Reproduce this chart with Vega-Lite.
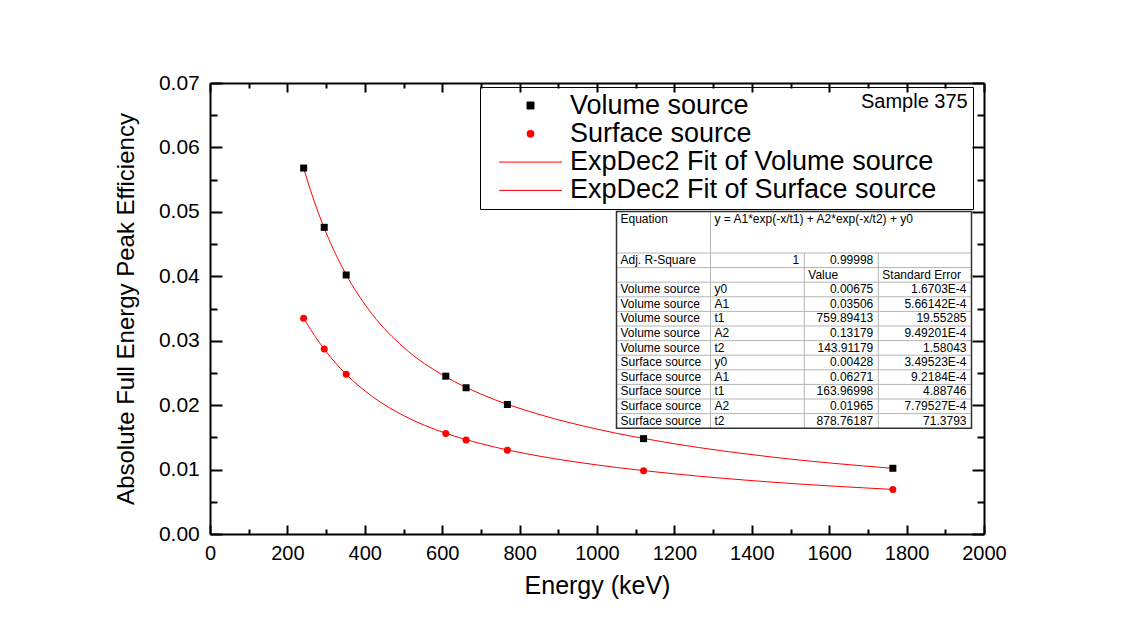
{
  "$schema": "https://vega.github.io/schema/vega-lite/v6.json",
  "width": 774,
  "height": 451,
  "autosize": {"type": "none"},
  "padding": {"left": 210, "top": 83, "right": 146, "bottom": 103},
  "background": "white",
  "config": {
    "view": {"stroke": null},
    "font": "Liberation Sans",
    "axis": {"grid": false, "domainColor": "black", "domainWidth": 2, "tickColor": "black", "tickWidth": 2, "labelFont": "Liberation Sans", "labelFontSize": 20, "labelColor": "black", "titleFont": "Liberation Sans", "titleFontWeight": "normal", "titleColor": "black", "labelFlush": false, "labelOverlap": false}
  },
  "datasets": {
    "measured": [
      {"E": 242.0, "eff": 0.0568, "series": "Volume source"},
      {"E": 295.2, "eff": 0.0476, "series": "Volume source"},
      {"E": 351.9, "eff": 0.0402, "series": "Volume source"},
      {"E": 609.3, "eff": 0.0245, "series": "Volume source"},
      {"E": 661.7, "eff": 0.0227, "series": "Volume source"},
      {"E": 768.4, "eff": 0.0201, "series": "Volume source"},
      {"E": 1120.3, "eff": 0.0148, "series": "Volume source"},
      {"E": 1764.5, "eff": 0.0102, "series": "Volume source"},
      {"E": 242.0, "eff": 0.0335, "series": "Surface source"},
      {"E": 295.2, "eff": 0.0287, "series": "Surface source"},
      {"E": 351.9, "eff": 0.0248, "series": "Surface source"},
      {"E": 609.3, "eff": 0.0156, "series": "Surface source"},
      {"E": 661.7, "eff": 0.0146, "series": "Surface source"},
      {"E": 768.4, "eff": 0.0130, "series": "Surface source"},
      {"E": 1120.3, "eff": 0.0098, "series": "Surface source"},
      {"E": 1764.5, "eff": 0.0069, "series": "Surface source"}
    ],
    "fit": [
      {"E": 242, "eff": 0.05677, "series": "ExpDec2 Fit of Volume source"},
      {"E": 260, "eff": 0.05329, "series": "ExpDec2 Fit of Volume source"},
      {"E": 300, "eff": 0.04677, "series": "ExpDec2 Fit of Volume source"},
      {"E": 325, "eff": 0.04339, "series": "ExpDec2 Fit of Volume source"},
      {"E": 350, "eff": 0.04045, "series": "ExpDec2 Fit of Volume source"},
      {"E": 420, "eff": 0.03404, "series": "ExpDec2 Fit of Volume source"},
      {"E": 500, "eff": 0.02899, "series": "ExpDec2 Fit of Volume source"},
      {"E": 609, "eff": 0.02440, "series": "ExpDec2 Fit of Volume source"},
      {"E": 700, "eff": 0.02172, "series": "ExpDec2 Fit of Volume source"},
      {"E": 850, "eff": 0.01857, "series": "ExpDec2 Fit of Volume source"},
      {"E": 1000, "eff": 0.01628, "series": "ExpDec2 Fit of Volume source"},
      {"E": 1200, "eff": 0.01401, "series": "ExpDec2 Fit of Volume source"},
      {"E": 1450, "eff": 0.01196, "series": "ExpDec2 Fit of Volume source"},
      {"E": 1764.5, "eff": 0.01019, "series": "ExpDec2 Fit of Volume source"},
      {"E": 242, "eff": 0.03353, "series": "ExpDec2 Fit of Surface source"},
      {"E": 260, "eff": 0.03174, "series": "ExpDec2 Fit of Surface source"},
      {"E": 300, "eff": 0.02831, "series": "ExpDec2 Fit of Surface source"},
      {"E": 325, "eff": 0.02650, "series": "ExpDec2 Fit of Surface source"},
      {"E": 350, "eff": 0.02489, "series": "ExpDec2 Fit of Surface source"},
      {"E": 420, "eff": 0.02131, "series": "ExpDec2 Fit of Surface source"},
      {"E": 500, "eff": 0.01838, "series": "ExpDec2 Fit of Surface source"},
      {"E": 609, "eff": 0.01564, "series": "ExpDec2 Fit of Surface source"},
      {"E": 700, "eff": 0.01402, "series": "ExpDec2 Fit of Surface source"},
      {"E": 850, "eff": 0.01210, "series": "ExpDec2 Fit of Surface source"},
      {"E": 1000, "eff": 0.01072, "series": "ExpDec2 Fit of Surface source"},
      {"E": 1200, "eff": 0.00934, "series": "ExpDec2 Fit of Surface source"},
      {"E": 1450, "eff": 0.00806, "series": "ExpDec2 Fit of Surface source"},
      {"E": 1764.5, "eff": 0.00692, "series": "ExpDec2 Fit of Surface source"}
    ],
    "tableFrame": [{"r0": 0, "r1": 13, "c0": 0, "c1": 4}],
    "tableGrid": [
      {"r0": 1, "r1": 1, "c0": 0, "c1": 4},
      {"r0": 2, "r1": 2, "c0": 0, "c1": 4},
      {"r0": 3, "r1": 3, "c0": 0, "c1": 4},
      {"r0": 4, "r1": 4, "c0": 0, "c1": 4},
      {"r0": 5, "r1": 5, "c0": 0, "c1": 4},
      {"r0": 6, "r1": 6, "c0": 0, "c1": 4},
      {"r0": 7, "r1": 7, "c0": 0, "c1": 4},
      {"r0": 8, "r1": 8, "c0": 0, "c1": 4},
      {"r0": 9, "r1": 9, "c0": 0, "c1": 4},
      {"r0": 10, "r1": 10, "c0": 0, "c1": 4},
      {"r0": 11, "r1": 11, "c0": 0, "c1": 4},
      {"r0": 12, "r1": 12, "c0": 0, "c1": 4},
      {"r0": 0, "r1": 13, "c0": 1, "c1": 1},
      {"r0": 1, "r1": 13, "c0": 2, "c1": 2},
      {"r0": 1, "r1": 13, "c0": 3, "c1": 3}
    ],
    "tableCells": [
      {"r": 0, "c0": 0, "c1": 1, "t": "Equation", "k": "label"},
      {"r": 0, "c0": 1, "c1": 4, "t": "y = A1*exp(-x/t1) + A2*exp(-x/t2) + y0", "k": "label"},
      {"r": 1, "c0": 0, "c1": 1, "t": "Adj. R-Square", "k": "label"},
      {"r": 1, "c0": 1, "c1": 2, "t": "1", "k": "number"},
      {"r": 1, "c0": 2, "c1": 3, "t": "0.99998", "k": "number"},
      {"r": 2, "c0": 2, "c1": 3, "t": "Value", "k": "label"},
      {"r": 2, "c0": 3, "c1": 4, "t": "Standard Error", "k": "label"},
      {"r": 3, "c0": 0, "c1": 1, "t": "Volume source", "k": "label"},
      {"r": 3, "c0": 1, "c1": 2, "t": "y0", "k": "label"},
      {"r": 3, "c0": 2, "c1": 3, "t": "0.00675", "k": "number"},
      {"r": 3, "c0": 3, "c1": 4, "t": "1.6703E-4", "k": "number"},
      {"r": 4, "c0": 0, "c1": 1, "t": "Volume source", "k": "label"},
      {"r": 4, "c0": 1, "c1": 2, "t": "A1", "k": "label"},
      {"r": 4, "c0": 2, "c1": 3, "t": "0.03506", "k": "number"},
      {"r": 4, "c0": 3, "c1": 4, "t": "5.66142E-4", "k": "number"},
      {"r": 5, "c0": 0, "c1": 1, "t": "Volume source", "k": "label"},
      {"r": 5, "c0": 1, "c1": 2, "t": "t1", "k": "label"},
      {"r": 5, "c0": 2, "c1": 3, "t": "759.89413", "k": "number"},
      {"r": 5, "c0": 3, "c1": 4, "t": "19.55285", "k": "number"},
      {"r": 6, "c0": 0, "c1": 1, "t": "Volume source", "k": "label"},
      {"r": 6, "c0": 1, "c1": 2, "t": "A2", "k": "label"},
      {"r": 6, "c0": 2, "c1": 3, "t": "0.13179", "k": "number"},
      {"r": 6, "c0": 3, "c1": 4, "t": "9.49201E-4", "k": "number"},
      {"r": 7, "c0": 0, "c1": 1, "t": "Volume source", "k": "label"},
      {"r": 7, "c0": 1, "c1": 2, "t": "t2", "k": "label"},
      {"r": 7, "c0": 2, "c1": 3, "t": "143.91179", "k": "number"},
      {"r": 7, "c0": 3, "c1": 4, "t": "1.58043", "k": "number"},
      {"r": 8, "c0": 0, "c1": 1, "t": "Surface source", "k": "label"},
      {"r": 8, "c0": 1, "c1": 2, "t": "y0", "k": "label"},
      {"r": 8, "c0": 2, "c1": 3, "t": "0.00428", "k": "number"},
      {"r": 8, "c0": 3, "c1": 4, "t": "3.49523E-4", "k": "number"},
      {"r": 9, "c0": 0, "c1": 1, "t": "Surface source", "k": "label"},
      {"r": 9, "c0": 1, "c1": 2, "t": "A1", "k": "label"},
      {"r": 9, "c0": 2, "c1": 3, "t": "0.06271", "k": "number"},
      {"r": 9, "c0": 3, "c1": 4, "t": "9.2184E-4", "k": "number"},
      {"r": 10, "c0": 0, "c1": 1, "t": "Surface source", "k": "label"},
      {"r": 10, "c0": 1, "c1": 2, "t": "t1", "k": "label"},
      {"r": 10, "c0": 2, "c1": 3, "t": "163.96998", "k": "number"},
      {"r": 10, "c0": 3, "c1": 4, "t": "4.88746", "k": "number"},
      {"r": 11, "c0": 0, "c1": 1, "t": "Surface source", "k": "label"},
      {"r": 11, "c0": 1, "c1": 2, "t": "A2", "k": "label"},
      {"r": 11, "c0": 2, "c1": 3, "t": "0.01965", "k": "number"},
      {"r": 11, "c0": 3, "c1": 4, "t": "7.79527E-4", "k": "number"},
      {"r": 12, "c0": 0, "c1": 1, "t": "Surface source", "k": "label"},
      {"r": 12, "c0": 1, "c1": 2, "t": "t2", "k": "label"},
      {"r": 12, "c0": 2, "c1": 3, "t": "878.76187", "k": "number"},
      {"r": 12, "c0": 3, "c1": 4, "t": "71.3793", "k": "number"}
    ]
  },
  "layer": [
    {
      "layer": [
        {
          "data": {"name": "fit"},
          "mark": {"type": "line", "color": "#ff0000", "strokeWidth": 1, "interpolate": "monotone"},
          "encoding": {
            "x": {"field": "E", "type": "quantitative", "scale": {"domain": [0, 2000], "nice": false, "zero": false},
              "axis": {"orient": "top", "values": [0,100,200,300,400,500,600,700,800,900,1000,1100,1200,1300,1400,1500,1600,1700,1800,1900,2000], "labels": false, "title": null,
                "tickSize": {"condition": {"test": "datum.value % 200 === 0", "value": -9}, "value": -5}}},
            "y": {"field": "eff", "type": "quantitative", "scale": {"domain": [0, 0.07], "nice": false, "zero": false},
              "axis": {"orient": "right", "values": [0,0.005,0.01,0.015,0.02,0.025,0.03,0.035,0.04,0.045,0.05,0.055,0.06,0.065,0.07], "labels": false, "title": null,
                "tickSize": {"condition": {"test": "abs(datum.value*100 - round(datum.value*100)) < 0.001", "value": -12}, "value": -7}}},
            "detail": {"field": "series", "type": "nominal"}
          }
        },
        {
          "data": {"name": "measured"},
          "mark": {"type": "point", "filled": true, "size": 49, "opacity": 1},
          "encoding": {
            "x": {"field": "E", "type": "quantitative",
              "axis": {"orient": "bottom", "values": [0,100,200,300,400,500,600,700,800,900,1000,1100,1200,1300,1400,1500,1600,1700,1800,1900,2000], "format": "d",
                "labelExpr": "datum.value % 200 === 0 ? datum.label : ''",
                "tickSize": {"condition": {"test": "datum.value % 200 === 0", "value": -9}, "value": -5},
                "labelPadding": 18.5, "title": "Energy (keV)", "titleFontSize": 25, "titlePadding": 6}},
            "y": {"field": "eff", "type": "quantitative",
              "axis": {"orient": "left", "values": [0,0.005,0.01,0.015,0.02,0.025,0.03,0.035,0.04,0.045,0.05,0.055,0.06,0.065,0.07], "format": ".2f",
                "labelExpr": "abs(datum.value*100 - round(datum.value*100)) < 0.001 ? datum.label : ''",
                "tickSize": {"condition": {"test": "abs(datum.value*100 - round(datum.value*100)) < 0.001", "value": -12}, "value": -7},
                "labelPadding": 22.7, "labelFontSize": 21, "title": "Absolute Full Energy Peak Efficiency", "titleFontSize": 24, "titlePadding": 20}},
            "color": {"field": "series", "type": "nominal",
              "scale": {"domain": ["Volume source", "Surface source", "ExpDec2 Fit of Volume source", "ExpDec2 Fit of Surface source"], "range": ["#000000", "#ff0000", "#ff0000", "#ff0000"]},
              "legend": {"title": "Sample 375", "titleOrient": "right", "titleAnchor": "start", "titlePadding": -75, "titleFont": "Liberation Sans", "titleFontSize": 20, "titleFontWeight": "normal", "titleColor": "black", "titleLimit": 1000,
                "orient": "none", "legendX": 270, "legendY": 4, "padding": 5, "strokeColor": "black", "labelFont": "Liberation Sans", "labelFontSize": 27, "labelColor": "black", "labelLimit": 1000, "symbolSize": 49, "symbolStrokeWidth": 1,
                "symbolStrokeColor": {"expr": "datum.value === 'Volume source' ? '#000000' : '#ff0000'"},
                "rowPadding": 0.3, "symbolOffset": 32, "labelOffset": 26,
                "encode": {"title": {"angle": {"value": 0}, "align": {"value": "left"}, "baseline": {"value": "top"}, "dy": {"value": 2}}}}},
            "shape": {"field": "series", "type": "nominal",
              "scale": {"domain": ["Volume source", "Surface source", "ExpDec2 Fit of Volume source", "ExpDec2 Fit of Surface source"], "range": ["square", "circle", "M-9,0H9", "M-9,0H9"]},
              "legend": {"title": "Sample 375", "titleOrient": "right", "titleAnchor": "start", "titlePadding": -75, "titleFont": "Liberation Sans", "titleFontSize": 20, "titleFontWeight": "normal", "titleColor": "black", "titleLimit": 1000,
                "orient": "none", "legendX": 270, "legendY": 4, "padding": 5, "strokeColor": "black", "labelFont": "Liberation Sans", "labelFontSize": 27, "labelColor": "black", "labelLimit": 1000, "symbolSize": 49, "symbolStrokeWidth": 1,
                "symbolStrokeColor": {"expr": "datum.value === 'Volume source' ? '#000000' : '#ff0000'"},
                "rowPadding": 0.3, "symbolOffset": 32, "labelOffset": 26,
                "encode": {"title": {"angle": {"value": 0}, "align": {"value": "left"}, "baseline": {"value": "top"}, "dy": {"value": 2}}}}}
          }
        }
      ]
    },
    {
      "layer": [
        {
          "data": {"name": "tableFrame"},
          "mark": {"type": "rect", "fill": "white", "stroke": null},
          "encoding": {
            "x": {"field": "c0", "type": "quantitative", "scale": {"domain": [0, 1, 2, 3, 4], "range": [406.5, 500.5, 594.3, 668.3, 761.5], "nice": false, "zero": false}, "axis": null},
            "x2": {"field": "c1"},
            "y": {"field": "r0", "type": "quantitative", "scale": {"domain": [0, 1, 13], "range": [128.5, 170, 345.2], "nice": false, "zero": false}, "axis": null},
            "y2": {"field": "r1"}
          }
        },
        {
          "data": {"name": "tableGrid"},
          "mark": {"type": "rule", "color": "#b4b4b4", "strokeWidth": 1},
          "encoding": {
            "x": {"field": "c0", "type": "quantitative"},
            "x2": {"field": "c1"},
            "y": {"field": "r0", "type": "quantitative"},
            "y2": {"field": "r1"}
          }
        },
        {
          "data": {"name": "tableFrame"},
          "mark": {"type": "rect", "fill": null, "fillOpacity": 0, "stroke": "#303030", "strokeWidth": 1.5},
          "encoding": {
            "x": {"field": "c0", "type": "quantitative"},
            "x2": {"field": "c1"},
            "y": {"field": "r0", "type": "quantitative"},
            "y2": {"field": "r1"}
          }
        },
        {
          "data": {"name": "tableCells"},
          "transform": [{"filter": "datum.k === 'label'"}],
          "mark": {"type": "text", "align": "left", "baseline": "top", "dx": 4, "dy": 2, "font": "Liberation Sans", "fontSize": 12, "color": "black"},
          "encoding": {
            "x": {"field": "c0", "type": "quantitative"},
            "y": {"field": "r", "type": "quantitative"},
            "text": {"field": "t"}
          }
        },
        {
          "data": {"name": "tableCells"},
          "transform": [{"filter": "datum.k === 'number'"}],
          "mark": {"type": "text", "align": "right", "baseline": "top", "dx": -5, "dy": 2, "font": "Liberation Sans", "fontSize": 12, "color": "black"},
          "encoding": {
            "x": {"field": "c1", "type": "quantitative"},
            "y": {"field": "r", "type": "quantitative"},
            "text": {"field": "t"}
          }
        }
      ]
    }
  ],
  "resolve": {"scale": {"x": "independent", "y": "independent"}}
}
